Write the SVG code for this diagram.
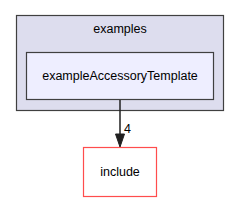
<svg xmlns="http://www.w3.org/2000/svg" width="240" height="201" viewBox="0 0 240 201">
<style>
text{font-family:"Liberation Sans",Arial,sans-serif;font-size:12.5px;fill:#000;text-anchor:middle}
.cl{fill:#ddddee;stroke:#404040;stroke-width:1.2}
.dir{fill:#eeeeff;stroke:#404040;stroke-width:1.2}
.inc{fill:#ffffff;stroke:#ff4d4d;stroke-width:1.2}
.edge{stroke:#202020;stroke-width:1.5;fill:none}
</style>
<g id="cluster_examples">
<rect class="cl" x="16.5" y="15.5" width="207" height="95"/>
<text x="120" y="33">examples</text>
</g>
<g id="node_exampleAccessoryTemplate">
<rect class="dir" x="26.5" y="52.5" width="187" height="47"/>
<text x="120" y="80">exampleAccessoryTemplate</text>
</g>
<g id="node_include">
<rect class="inc" x="83.5" y="147.5" width="73" height="49"/>
<text x="120" y="176">include</text>
</g>
<g id="connectors">
<line class="edge" x1="120" y1="100" x2="120" y2="136"/>
<path d="M115.5,134 L120,147 L124.5,134 Z" fill="#202020" stroke="#202020"/>
<text x="127.5" y="133">4</text>
</g>
</svg>
